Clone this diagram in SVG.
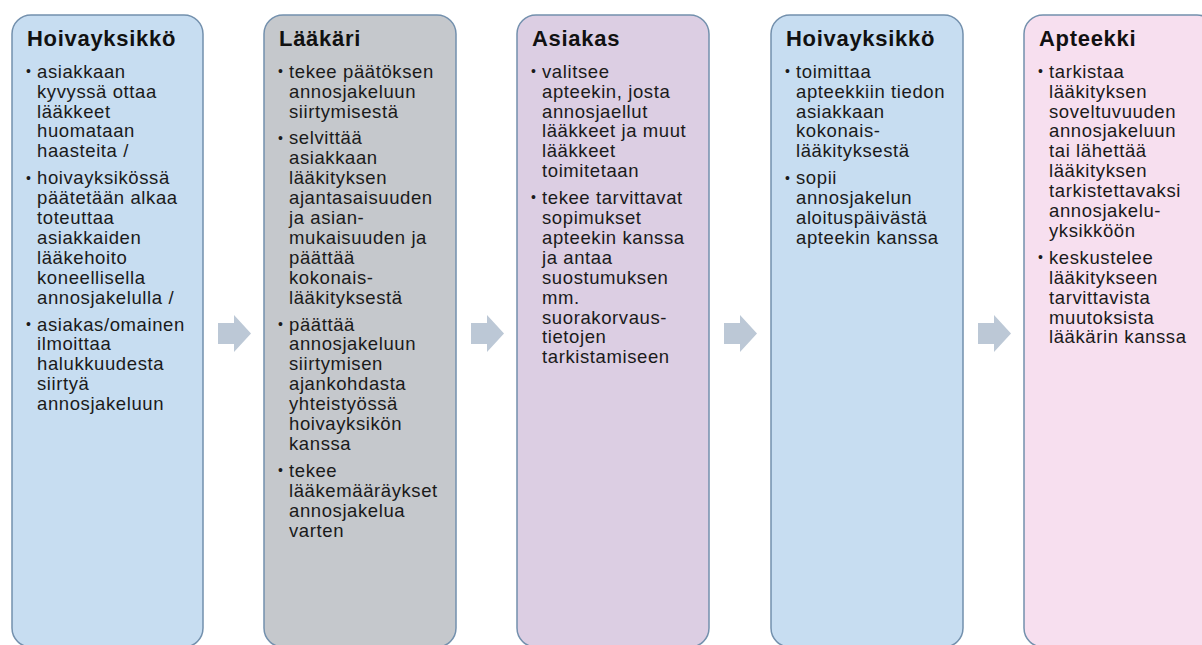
<svg xmlns="http://www.w3.org/2000/svg" xmlns:xlink="http://www.w3.org/1999/xlink" width="1202" height="645" viewBox="0 0 1202 645">
<style>
.box{stroke:#7390AD;stroke-width:1.5}
.blue{fill:#C7DDF1}
.gray{fill:#C5C8CC}
.lilac{fill:#DCCEE3}
.pink{fill:#F7DFEF}
.title{font-family:"Liberation Sans",Arial,sans-serif;font-weight:bold;font-size:22px;letter-spacing:0.7px;fill:#111}
.body{font-family:"Liberation Sans",Arial,sans-serif;font-size:18.5px;letter-spacing:0.6px;fill:#1a1a1a}
.bul{font-family:"Liberation Sans",Arial,sans-serif;font-size:14px;fill:#1a1a1a}
.arrow{fill:#BCC8D6}
</style>
<defs>
<path id="arr" d="M0 -10.5 H16 V-18.5 L33 0 L16 18.5 V10.5 H0 Z"/>
</defs>

<g id="connectors">
<use xlink:href="#arr" href="#arr" class="arrow" x="218" y="333.5"/>
<use xlink:href="#arr" href="#arr" class="arrow" x="471" y="333.5"/>
<use xlink:href="#arr" href="#arr" class="arrow" x="724" y="333.5"/>
<use xlink:href="#arr" href="#arr" class="arrow" x="978" y="333.5"/>
</g>

<g id="node-hoivayksikko-1">
<rect class="box blue" x="12" y="15" width="191" height="632" rx="19"/>
<text class="title" x="27" y="46">Hoivayksikkö</text>
<text class="bul" x="26" y="76">•</text>
<text class="body" y="77.7"><tspan x="37">asiakkaan</tspan><tspan x="37" dy="19.9">kyvyssä ottaa</tspan><tspan x="37" dy="19.9">lääkkeet</tspan><tspan x="37" dy="19.9">huomataan</tspan><tspan x="37" dy="19.9">haasteita /</tspan></text>
<text class="bul" x="26" y="182.5">•</text>
<text class="body" y="184.2"><tspan x="37">hoivayksikössä</tspan><tspan x="37" dy="19.9">päätetään alkaa</tspan><tspan x="37" dy="19.9">toteuttaa</tspan><tspan x="37" dy="19.9">asiakkaiden</tspan><tspan x="37" dy="19.9">lääkehoito</tspan><tspan x="37" dy="19.9">koneellisella</tspan><tspan x="37" dy="19.9">annosjakelulla /</tspan></text>
<text class="bul" x="26" y="328.8">•</text>
<text class="body" y="330.5"><tspan x="37">asiakas/omainen</tspan><tspan x="37" dy="19.9">ilmoittaa</tspan><tspan x="37" dy="19.9">halukkuudesta</tspan><tspan x="37" dy="19.9">siirtyä</tspan><tspan x="37" dy="19.9">annosjakeluun</tspan></text>
</g>

<g id="node-laakari">
<rect class="box gray" x="264" y="15" width="192" height="632" rx="19"/>
<text class="title" x="279" y="46">Lääkäri</text>
<text class="bul" x="278" y="76">•</text>
<text class="body" y="77.7"><tspan x="289">tekee päätöksen</tspan><tspan x="289" dy="19.9">annosjakeluun</tspan><tspan x="289" dy="19.9">siirtymisestä</tspan></text>
<text class="bul" x="278" y="142.7">•</text>
<text class="body" y="144.4"><tspan x="289">selvittää</tspan><tspan x="289" dy="19.9">asiakkaan</tspan><tspan x="289" dy="19.9">lääkityksen</tspan><tspan x="289" dy="19.9">ajantasaisuuden</tspan><tspan x="289" dy="19.9">ja asian-</tspan><tspan x="289" dy="19.9">mukaisuuden ja</tspan><tspan x="289" dy="19.9">päättää</tspan><tspan x="289" dy="19.9">kokonais-</tspan><tspan x="289" dy="19.9">lääkityksestä</tspan></text>
<text class="bul" x="278" y="328.8">•</text>
<text class="body" y="330.5"><tspan x="289">päättää</tspan><tspan x="289" dy="19.9">annosjakeluun</tspan><tspan x="289" dy="19.9">siirtymisen</tspan><tspan x="289" dy="19.9">ajankohdasta</tspan><tspan x="289" dy="19.9">yhteistyössä</tspan><tspan x="289" dy="19.9">hoivayksikön</tspan><tspan x="289" dy="19.9">kanssa</tspan></text>
<text class="bul" x="278" y="475.1">•</text>
<text class="body" y="476.8"><tspan x="289">tekee</tspan><tspan x="289" dy="19.9">lääkemääräykset</tspan><tspan x="289" dy="19.9">annosjakelua</tspan><tspan x="289" dy="19.9">varten</tspan></text>
</g>

<g id="node-asiakas">
<rect class="box lilac" x="517" y="15" width="192" height="632" rx="19"/>
<text class="title" x="532" y="46">Asiakas</text>
<text class="bul" x="531" y="76">•</text>
<text class="body" y="77.7"><tspan x="542">valitsee</tspan><tspan x="542" dy="19.9">apteekin, josta</tspan><tspan x="542" dy="19.9">annosjaellut</tspan><tspan x="542" dy="19.9">lääkkeet ja muut</tspan><tspan x="542" dy="19.9">lääkkeet</tspan><tspan x="542" dy="19.9">toimitetaan</tspan></text>
<text class="bul" x="531" y="202.4">•</text>
<text class="body" y="204.1"><tspan x="542">tekee tarvittavat</tspan><tspan x="542" dy="19.9">sopimukset</tspan><tspan x="542" dy="19.9">apteekin kanssa</tspan><tspan x="542" dy="19.9">ja antaa</tspan><tspan x="542" dy="19.9">suostumuksen</tspan><tspan x="542" dy="19.9">mm.</tspan><tspan x="542" dy="19.9">suorakorvaus-</tspan><tspan x="542" dy="19.9">tietojen</tspan><tspan x="542" dy="19.9">tarkistamiseen</tspan></text>
</g>

<g id="node-hoivayksikko-2">
<rect class="box blue" x="771" y="15" width="192" height="632" rx="19"/>
<text class="title" x="786" y="46">Hoivayksikkö</text>
<text class="bul" x="785" y="76">•</text>
<text class="body" y="77.7"><tspan x="796">toimittaa</tspan><tspan x="796" dy="19.9">apteekkiin tiedon</tspan><tspan x="796" dy="19.9">asiakkaan</tspan><tspan x="796" dy="19.9">kokonais-</tspan><tspan x="796" dy="19.9">lääkityksestä</tspan></text>
<text class="bul" x="785" y="182.5">•</text>
<text class="body" y="184.2"><tspan x="796">sopii</tspan><tspan x="796" dy="19.9">annosjakelun</tspan><tspan x="796" dy="19.9">aloituspäivästä</tspan><tspan x="796" dy="19.9">apteekin kanssa</tspan></text>
</g>

<g id="node-apteekki">
<rect class="box pink" x="1024" y="15" width="192" height="632" rx="19"/>
<text class="title" x="1039" y="46">Apteekki</text>
<text class="bul" x="1038" y="76">•</text>
<text class="body" y="77.7"><tspan x="1049">tarkistaa</tspan><tspan x="1049" dy="19.9">lääkityksen</tspan><tspan x="1049" dy="19.9">soveltuvuuden</tspan><tspan x="1049" dy="19.9">annosjakeluun</tspan><tspan x="1049" dy="19.9">tai lähettää</tspan><tspan x="1049" dy="19.9">lääkityksen</tspan><tspan x="1049" dy="19.9">tarkistettavaksi</tspan><tspan x="1049" dy="19.9">annosjakelu-</tspan><tspan x="1049" dy="19.9">yksikköön</tspan></text>
<text class="bul" x="1038" y="262.1">•</text>
<text class="body" y="263.8"><tspan x="1049">keskustelee</tspan><tspan x="1049" dy="19.9">lääkitykseen</tspan><tspan x="1049" dy="19.9">tarvittavista</tspan><tspan x="1049" dy="19.9">muutoksista</tspan><tspan x="1049" dy="19.9">lääkärin kanssa</tspan></text>
</g>
</svg>
